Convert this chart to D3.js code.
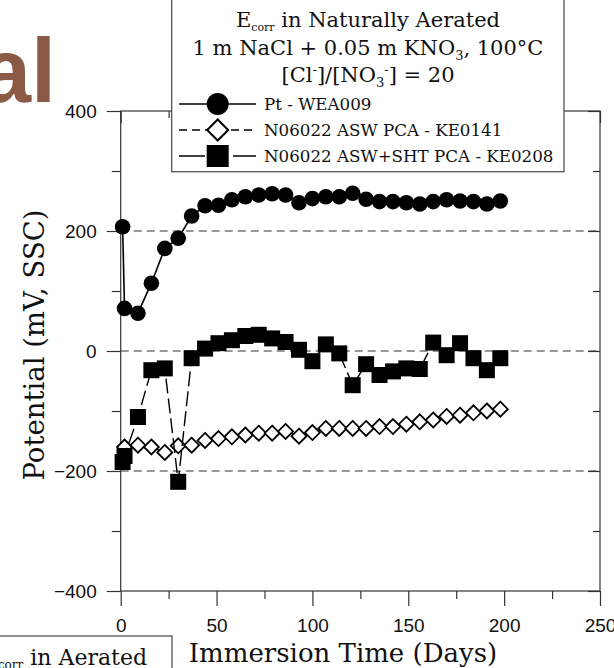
<!DOCTYPE html>
<html>
<head>
<meta charset="utf-8">
<script src="https://cdn.jsdelivr.net/npm/d3@7"></script>
<style>
  html, body { margin: 0; padding: 0; background: #fff; }
  svg { display: block; }
  .serif { font-family: "DejaVu Serif", serif; }
  .sans { font-family: "Liberation Sans", Arial, sans-serif; }
</style>
</head>
<body>
<svg id="chart" width="614" height="668"></svg>
<script>
// Immersion time (days) and corrosion potential (mV vs SSC) for each specimen
const ptDays = [1, 2, 9, 16, 23, 30, 37, 44, 51, 58, 65, 72, 79, 86, 93, 100, 107, 114, 121, 128, 135, 142, 149, 156, 163, 170, 177, 184, 191, 198];
const ptValues = [207, 71, 63, 113, 171, 188, 225, 242, 243, 252, 257, 260, 262, 260, 247, 254, 257, 257, 263, 253, 249, 249, 247, 245, 249, 252, 250, 249, 245, 250];

const pcaDays = [2, 9, 16, 23, 30, 37, 44, 51, 58, 65, 72, 79, 86, 93, 100, 107, 114, 121, 128, 135, 142, 149, 156, 163, 170, 177, 184, 191, 198];
const pcaValues = [-160, -157, -160, -169, -158, -157, -149, -146, -143, -140, -137, -137, -134, -142, -136, -129, -129, -129, -129, -126, -126, -122, -118, -115, -109, -107, -103, -100, -97];

const shtDays = [1, 2, 9, 16, 23, 30, 37, 44, 51, 58, 65, 72, 79, 86, 93, 100, 107, 114, 121, 128, 135, 142, 149, 156, 163, 170, 177, 184, 191, 198];
const shtValues = [-185, -175, -110, -32, -29, -218, -12, 4, 13, 18, 25, 27, 21, 15, 2, -17, 11, -4, -57, -22, -40, -34, -29, -30, 14, -7, 13, -12, -32, -12];

const seriesNames = ["Pt - WEA009", "N06022 ASW PCA - KE0141", "N06022 ASW+SHT PCA - KE0208"];

const xMajorTicks = [0, 50, 100, 150, 200, 250];
const xMinorTicks = [25, 75, 125, 175, 225];
const yMajorTicks = [-400, -200, 0, 200, 400];
const yMinorTicks = [-300, -100, 100, 300];
const gridValues = [-200, 0, 200];

const svg = d3.select("#chart");

const plotLeft = 120.7, plotRight = 600, plotTop = 111, plotBottom = 591;
const x = d3.scaleLinear().domain([0, 250]).range([plotLeft, plotRight]);
const y = d3.scaleLinear().domain([-400, 400]).range([plotBottom, plotTop]);

// fragment of a slide heading behind the chart
svg.append("text")
  .attr("class", "sans")
  .attr("x", 56).attr("y", 102)
  .attr("text-anchor", "end")
  .attr("font-size", 90).attr("font-weight", "bold")
  .attr("fill", "#8b5a45")
  .text("al");

// dashed reference lines
svg.append("g").selectAll("line").data(gridValues).join("line")
  .attr("x1", plotLeft).attr("x2", plotRight)
  .attr("y1", d => y(d)).attr("y2", d => y(d))
  .attr("stroke", "#333").attr("stroke-width", 1.1)
  .attr("stroke-dasharray", "8,5");

// frame
svg.append("rect")
  .attr("x", plotLeft).attr("y", plotTop)
  .attr("width", plotRight - plotLeft).attr("height", plotBottom - plotTop)
  .attr("fill", "none").attr("stroke", "#333").attr("stroke-width", 1.2);

function styleAxis(g) {
  g.select(".domain").remove();
  g.selectAll(".tick line").attr("stroke", "#333").attr("stroke-width", 1.2);
}

// bottom axis
svg.append("g").attr("transform", `translate(0,${plotBottom})`)
  .call(d3.axisBottom(x).tickValues(xMajorTicks).tickSize(15).tickPadding(13).tickFormat(d3.format("d")))
  .call(styleAxis)
  .call(g => g.selectAll("text").attr("class", "sans").attr("font-size", 19).attr("fill", "#111"));
svg.append("g").attr("transform", `translate(0,${plotBottom})`)
  .call(d3.axisBottom(x).tickValues(xMinorTicks).tickSize(8).tickFormat(""))
  .call(styleAxis);

// left axis
svg.append("g").attr("transform", `translate(${plotLeft},0)`)
  .call(d3.axisLeft(y).tickValues(yMajorTicks).tickSize(14).tickPadding(10).tickFormat(d3.format("d")))
  .call(styleAxis)
  .call(g => g.selectAll("text").attr("class", "sans").attr("font-size", 19).attr("fill", "#111"));
svg.append("g").attr("transform", `translate(${plotLeft},0)`)
  .call(d3.axisLeft(y).tickValues(yMinorTicks).tickSize(9).tickFormat(""))
  .call(styleAxis);

// top and right axes, ticks pointing inward
svg.append("g").attr("transform", `translate(0,${plotTop})`)
  .call(d3.axisTop(x).tickValues(xMinorTicks).tickSize(-7).tickFormat(""))
  .call(styleAxis);
svg.append("g").attr("transform", `translate(0,${plotTop})`)
  .call(d3.axisTop(x).tickValues(xMajorTicks).tickSize(-12).tickFormat(""))
  .call(styleAxis);
svg.append("g").attr("transform", `translate(${plotRight},0)`)
  .call(d3.axisRight(y).tickValues(yMajorTicks).tickSize(-12).tickFormat(""))
  .call(styleAxis);
svg.append("g").attr("transform", `translate(${plotRight},0)`)
  .call(d3.axisRight(y).tickValues(yMinorTicks).tickSize(-7).tickFormat(""))
  .call(styleAxis);

// axis titles
svg.append("text")
  .attr("class", "serif")
  .attr("transform", `translate(44,345) rotate(-90)`)
  .attr("text-anchor", "middle")
  .attr("font-size", 27.5).attr("fill", "#111")
  .text("Potential (mV, SSC)");
svg.append("text")
  .attr("class", "serif")
  .attr("x", 343).attr("y", 662)
  .attr("text-anchor", "middle")
  .attr("font-size", 26).attr("fill", "#111")
  .text("Immersion Time (Days)");

// data series
const line = d3.line();
const pt = ptDays.map((d, i) => [x(d), y(ptValues[i])]);
const pca = pcaDays.map((d, i) => [x(d), y(pcaValues[i])]);
const sht = shtDays.map((d, i) => [x(d), y(shtValues[i])]);

const plot = svg.append("g");

plot.append("path").attr("d", line(pt))
  .attr("fill", "none").attr("stroke", "#000").attr("stroke-width", 1.6);
plot.selectAll("circle.pt").data(pt).join("circle")
  .attr("class", "pt")
  .attr("cx", d => d[0]).attr("cy", d => d[1]).attr("r", 7.8)
  .attr("fill", "#000");

plot.append("path").attr("d", line(pca))
  .attr("fill", "none").attr("stroke", "#000").attr("stroke-width", 1.3)
  .attr("stroke-dasharray", "6,4");
const diamond = s => `M0,${-s}L${s},0L0,${s}L${-s},0Z`;
plot.selectAll("path.pca").data(pca).join("path")
  .attr("class", "pca")
  .attr("transform", d => `translate(${d[0]},${d[1]})`)
  .attr("d", diamond(7.5))
  .attr("fill", "#fff").attr("stroke", "#000").attr("stroke-width", 1.8);

plot.append("path").attr("d", line(sht))
  .attr("fill", "none").attr("stroke", "#000").attr("stroke-width", 1.4)
  .attr("stroke-dasharray", "15,5");
const sq = 16;
plot.selectAll("rect.sht").data(sht).join("rect")
  .attr("class", "sht")
  .attr("x", d => d[0] - sq / 2).attr("y", d => d[1] - sq / 2)
  .attr("width", sq).attr("height", sq)
  .attr("fill", "#000");

// legend
const lg = svg.append("g");
lg.append("rect")
  .attr("x", 171.7).attr("y", -3).attr("width", 392.3).attr("height", 174.7)
  .attr("fill", "#fff").attr("stroke", "#555").attr("stroke-width", 1.3);

const titleX = 368;
const t1 = lg.append("text").attr("class", "serif").attr("x", titleX).attr("y", 27)
  .attr("text-anchor", "middle").attr("font-size", 21).attr("fill", "#111");
t1.append("tspan").text("E");
t1.append("tspan").attr("font-size", 11).attr("dy", 4).text("corr");
t1.append("tspan").attr("dy", -4).text(" in Naturally Aerated");

const t2 = lg.append("text").attr("class", "serif").attr("x", titleX).attr("y", 55)
  .attr("text-anchor", "middle").attr("font-size", 21).attr("fill", "#111");
t2.append("tspan").text("1 m NaCl + 0.05 m KNO");
t2.append("tspan").attr("font-size", 13).attr("dy", 5).text("3");
t2.append("tspan").attr("dy", -5).text(", 100°C");

const t3 = lg.append("text").attr("class", "serif").attr("x", titleX).attr("y", 82)
  .attr("text-anchor", "middle").attr("font-size", 21).attr("fill", "#111");
t3.append("tspan").text("[Cl");
t3.append("tspan").attr("font-size", 13).attr("dy", -8).text("-");
t3.append("tspan").attr("dy", 8).text("]/[NO");
t3.append("tspan").attr("font-size", 13).attr("dy", 5).text("3");
t3.append("tspan").attr("font-size", 13).attr("dy", -13).text("-");
t3.append("tspan").attr("dy", 8).text("] = 20");

const rows = [104, 130, 156];
const lx1 = 179, lx2 = 256, lc = 217.7;
// Pt row
lg.append("line").attr("x1", lx1).attr("x2", lx2).attr("y1", rows[0]).attr("y2", rows[0])
  .attr("stroke", "#000").attr("stroke-width", 1.6);
lg.append("circle").attr("cx", lc).attr("cy", rows[0]).attr("r", 11).attr("fill", "#000");
// PCA row
lg.append("line").attr("x1", lx1).attr("x2", lx2).attr("y1", rows[1]).attr("y2", rows[1])
  .attr("stroke", "#000").attr("stroke-width", 1.4).attr("stroke-dasharray", "8,5");
lg.append("path").attr("transform", `translate(${lc},${rows[1]})`).attr("d", diamond(10.5))
  .attr("fill", "#fff").attr("stroke", "#000").attr("stroke-width", 2);
// SHT row
lg.append("line").attr("x1", lx1).attr("x2", lx2).attr("y1", rows[2]).attr("y2", rows[2])
  .attr("stroke", "#000").attr("stroke-width", 1.5).attr("stroke-dasharray", "26,6,16,6");
lg.append("rect").attr("x", lc - 11).attr("y", rows[2] - 11).attr("width", 22).attr("height", 22)
  .attr("fill", "#000");

lg.selectAll("text.entry").data(seriesNames).join("text")
  .attr("class", "entry serif")
  .attr("x", 264).attr("y", (d, i) => rows[i] + 6)
  .attr("font-size", 16.7).attr("fill", "#111")
  .text(d => d);

// clipped caption box at lower left
svg.append("rect")
  .attr("x", -10).attr("y", 636).attr("width", 182).attr("height", 50)
  .attr("fill", "#fff").attr("stroke", "#555").attr("stroke-width", 1.3);
const cap = svg.append("text").attr("class", "serif")
  .attr("x", 147).attr("y", 665).attr("text-anchor", "end")
  .attr("font-size", 22).attr("fill", "#111");
cap.append("tspan").text("E");
cap.append("tspan").attr("font-size", 12).attr("dy", 4).text("corr");
cap.append("tspan").attr("dy", -4).text(" in Aerated");
</script>
</body>
</html>
